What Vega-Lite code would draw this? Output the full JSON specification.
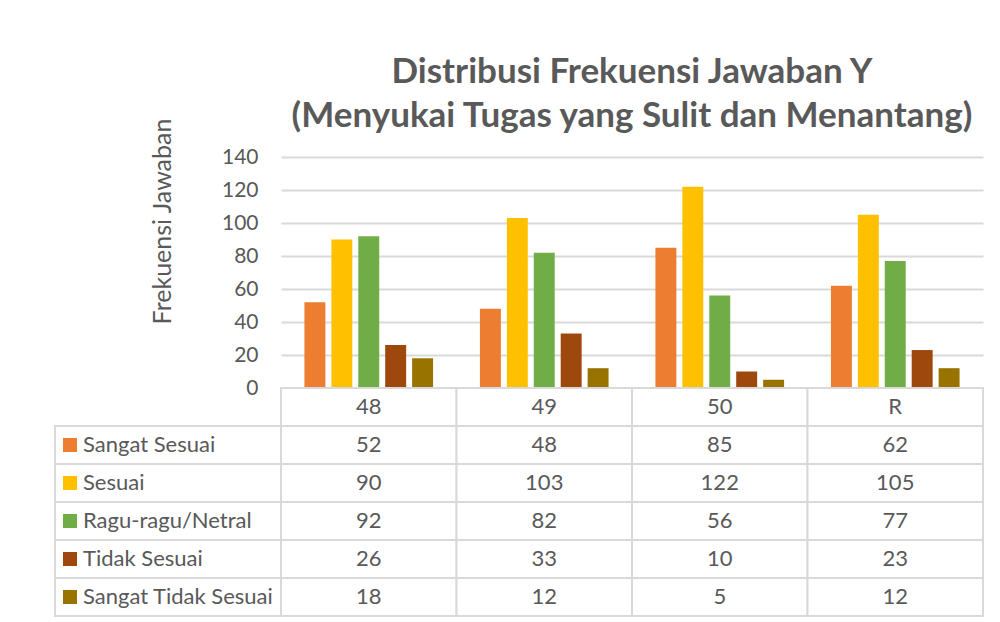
{
  "$schema": "https://vega.github.io/schema/vega-lite/v6.json",
  "autosize": {"type": "pad"},
  "padding": {"left": 54, "top": 54, "right": 0, "bottom": 0},
  "background": "white",
  "config": {"view": {"stroke": null}, "font": "Lato"},
  "datasets": {
    "freq": [
      {"cat": "48", "series": "Sangat Sesuai", "value": 52},
      {"cat": "48", "series": "Sesuai", "value": 90},
      {"cat": "48", "series": "Ragu-ragu/Netral", "value": 92},
      {"cat": "48", "series": "Tidak Sesuai", "value": 26},
      {"cat": "48", "series": "Sangat Tidak Sesuai", "value": 18},
      {"cat": "49", "series": "Sangat Sesuai", "value": 48},
      {"cat": "49", "series": "Sesuai", "value": 103},
      {"cat": "49", "series": "Ragu-ragu/Netral", "value": 82},
      {"cat": "49", "series": "Tidak Sesuai", "value": 33},
      {"cat": "49", "series": "Sangat Tidak Sesuai", "value": 12},
      {"cat": "50", "series": "Sangat Sesuai", "value": 85},
      {"cat": "50", "series": "Sesuai", "value": 122},
      {"cat": "50", "series": "Ragu-ragu/Netral", "value": 56},
      {"cat": "50", "series": "Tidak Sesuai", "value": 10},
      {"cat": "50", "series": "Sangat Tidak Sesuai", "value": 5},
      {"cat": "R", "series": "Sangat Sesuai", "value": 62},
      {"cat": "R", "series": "Sesuai", "value": 105},
      {"cat": "R", "series": "Ragu-ragu/Netral", "value": 77},
      {"cat": "R", "series": "Tidak Sesuai", "value": 23},
      {"cat": "R", "series": "Sangat Tidak Sesuai", "value": 12}
    ]
  },
  "columns": 2,
  "spacing": 0,
  "bounds": "flush",
  "concat": [
    {
      "width": 226,
      "height": 231,
      "data": {"values": [{"a": 1}]},
      "mark": {"type": "point", "opacity": 0},
      "encoding": {}
    },
    {
      "width": 702,
      "height": 231,
      "data": {"name": "freq"},
      "title": {
        "text": ["Distribusi Frekuensi Jawaban Y", "(Menyukai Tugas yang Sulit dan Menantang)"],
        "anchor": "middle",
        "font": "Lato",
        "fontSize": 35,
        "fontWeight": "bold",
        "color": "#595959",
        "lineHeight": 44,
        "offset": -16
      },
      "mark": {"type": "bar"},
      "encoding": {
        "x": {"field": "cat", "type": "nominal", "sort": ["48", "49", "50", "R"], "scale": {"paddingInner": 0, "paddingOuter": 0}, "axis": null},
        "xOffset": {"field": "series", "type": "nominal", "sort": ["Sangat Sesuai", "Sesuai", "Ragu-ragu/Netral", "Tidak Sesuai", "Sangat Tidak Sesuai"], "scale": {"paddingInner": 0.222, "paddingOuter": 0.87}},
        "y": {
          "field": "value", "type": "quantitative",
          "scale": {"domain": [0, 140], "nice": false},
          "axis": {
            "values": [0, 20, 40, 60, 80, 100, 120, 140],
            "grid": true, "gridColor": "#D9D9D9", "gridWidth": 2,
            "domain": false, "ticks": false, "tickSize": 0,
            "labelFontSize": 21, "labelColor": "#595959", "labelPadding": 23,
            "title": "Frekuensi Jawaban", "titleFontSize": 25, "titleFontWeight": "normal",
            "titleColor": "#595959", "titleX": -106, "titleY": 64
          }
        },
        "color": {
          "field": "series", "type": "nominal",
          "scale": {"domain": ["Sangat Sesuai", "Sesuai", "Ragu-ragu/Netral", "Tidak Sesuai", "Sangat Tidak Sesuai"], "range": ["#ED7D31", "#FFC000", "#70AD47", "#9E480E", "#997300"]},
          "legend": null
        }
      }
    },
    {
      "width": 226,
      "height": 228,
      "data": {"name": "freq"},
      "transform": [{"aggregate": [{"op": "count", "as": "n"}], "groupby": ["series"]}],
      "encoding": {
        "y": {"field": "series", "type": "nominal", "scale": {"domain": ["(header)", "Sangat Sesuai", "Sesuai", "Ragu-ragu/Netral", "Tidak Sesuai", "Sangat Tidak Sesuai"], "paddingInner": 0, "paddingOuter": 0}, "axis": null}
      },
      "layer": [
        {
          "mark": {"type": "rect", "fill": "white", "stroke": "#D9D9D9", "strokeWidth": 2},
          "encoding": {"x": {"datum": "lbl", "type": "nominal", "scale": {"domain": ["lbl"], "paddingInner": 0, "paddingOuter": 0}, "axis": null}}
        },
        {
          "mark": {"type": "point", "shape": "square", "filled": true, "opacity": 1, "size": 196, "xOffset": 15},
          "encoding": {
            "x": {"datum": "lbl", "type": "nominal", "bandPosition": 0},
            "color": {"field": "series", "type": "nominal", "scale": {"domain": ["Sangat Sesuai", "Sesuai", "Ragu-ragu/Netral", "Tidak Sesuai", "Sangat Tidak Sesuai"], "range": ["#ED7D31", "#FFC000", "#70AD47", "#9E480E", "#997300"]}, "legend": null}
          }
        },
        {
          "mark": {"type": "text", "align": "left", "baseline": "middle", "dx": 28, "fontSize": 22, "color": "#595959"},
          "encoding": {
            "x": {"datum": "lbl", "type": "nominal", "bandPosition": 0},
            "text": {"field": "series"}
          }
        }
      ]
    },
    {
      "width": 702,
      "height": 228,
      "encoding": {
        "x": {"field": "cat", "type": "nominal", "sort": ["48", "49", "50", "R"], "scale": {"domain": ["48", "49", "50", "R"], "paddingInner": 0, "paddingOuter": 0}, "axis": null}
      },
      "layer": [
        {
          "data": {"name": "freq"},
          "mark": {"type": "rect", "fill": "white", "stroke": "#D9D9D9", "strokeWidth": 2},
          "encoding": {
            "y": {"field": "series", "type": "nominal", "scale": {"domain": ["(header)", "Sangat Sesuai", "Sesuai", "Ragu-ragu/Netral", "Tidak Sesuai", "Sangat Tidak Sesuai"], "paddingInner": 0, "paddingOuter": 0}, "axis": null}
          }
        },
        {
          "data": {"name": "freq"},
          "transform": [{"aggregate": [{"op": "count", "as": "n"}], "groupby": ["cat"]}],
          "mark": {"type": "rect", "fill": "white", "stroke": "#D9D9D9", "strokeWidth": 2},
          "encoding": {"y": {"datum": "(header)", "type": "nominal"}}
        },
        {
          "data": {"name": "freq"},
          "mark": {"type": "text", "align": "center", "baseline": "middle", "fontSize": 22, "color": "#595959"},
          "encoding": {
            "y": {"field": "series", "type": "nominal"},
            "text": {"field": "value", "type": "quantitative"}
          }
        },
        {
          "data": {"name": "freq"},
          "transform": [{"aggregate": [{"op": "count", "as": "n"}], "groupby": ["cat"]}],
          "mark": {"type": "text", "align": "center", "baseline": "middle", "fontSize": 22, "color": "#595959"},
          "encoding": {
            "y": {"datum": "(header)", "type": "nominal"},
            "text": {"field": "cat", "type": "nominal"}
          }
        }
      ]
    }
  ]
}
